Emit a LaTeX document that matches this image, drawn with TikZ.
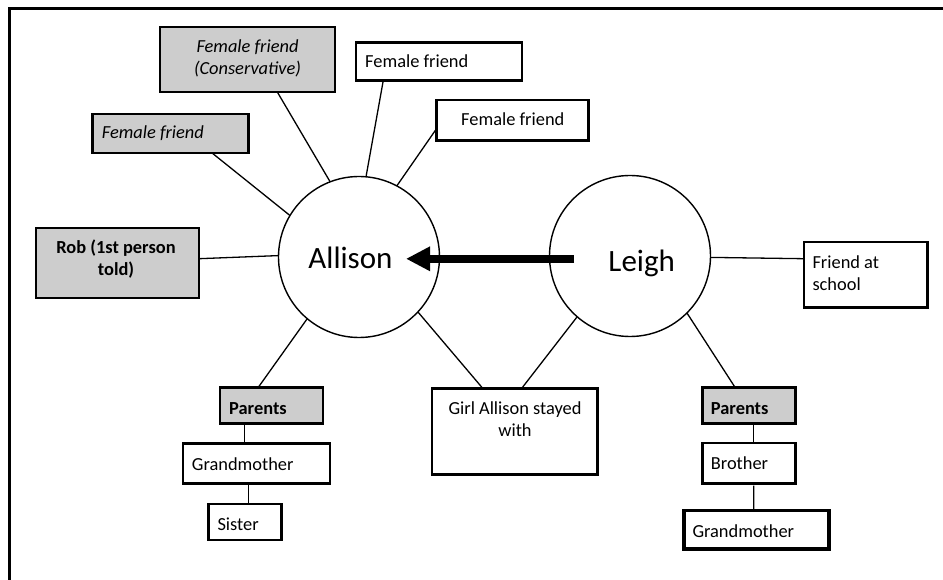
\documentclass[tikz,border=0pt]{standalone}
\usepackage{fontspec}
\setmainfont{Carlito}
\usetikzlibrary{arrows.meta}
\definecolor{boxgray}{RGB}{205,205,205}
\begin{document}
\begin{tikzpicture}[x=1pt,y=-1pt,
  box/.style={draw=black, line width=2.8pt, fill=white, inner sep=0pt, outer sep=0pt},
  gbox/.style={box, fill=boxgray},
  person/.style={circle, draw=black, line width=1.4pt, minimum size=161pt, inner sep=0pt, outer sep=0pt},
  big/.style={inner sep=0pt, anchor=base, font=\fontsize{31}{37}\selectfont},
  txt/.style={inner sep=0pt, font=\fontsize{18.4}{22}\selectfont},
  lt/.style={txt, anchor=base west},
  ct/.style={txt, anchor=base},
  link/.style={line width=1.3pt},
  frameline/.style={line width=3pt}
]
\useasboundingbox (0,0) rectangle (943,580);
% frame (left and top edges visible)
\coordinate (fr1) at (9,582);
\coordinate (fr2) at (9,9);
\coordinate (fr3) at (945,9);
\draw[frameline] (fr1) -- (fr2) -- (fr3);

% persons
\node[person] (A) at (359,257) {};
\node[person] (L) at (630,256) {};
\node[big] (At) at (350.5,269) {Allison};
\node[big] (Lt) at (641.7,271.5) {Leigh};

% boxes
\node[gbox, minimum width=175pt, minimum height=65pt] (con) at (247.5,59.5) {};
\node[gbox, minimum width=156pt, minimum height=39pt] (ffg) at (170.8,133.5) {};
\node[box, minimum width=166pt, minimum height=38pt] (ff1) at (439,61.3) {};
\node[box, minimum width=152pt, minimum height=40.5pt] (ff2) at (512.8,120.3) {};
\node[gbox, minimum width=163pt, minimum height=70pt] (rob) at (117.5,263) {};
\node[box, minimum width=123.5pt, minimum height=65.5pt] (fas) at (865.8,274.8) {};
\node[gbox, minimum width=103pt, minimum height=35.5pt] (parL) at (271.5,405.5) {};
\node[box, minimum width=147pt, minimum height=40.5pt] (gmL) at (256.5,463.6) {};
\node[box, minimum width=73pt, minimum height=36pt] (sis) at (245.3,522) {};
\node[box, minimum width=165.5pt, minimum height=86.5pt] (girl) at (514.8,431.6) {};
\node[gbox, minimum width=93.5pt, minimum height=35.5pt] (parR) at (749.1,405.5) {};
\node[box, minimum width=93.5pt, minimum height=40.5pt] (bro) at (749.1,463.3) {};
\node[box, minimum width=145pt, minimum height=38.5pt, line width=3.3pt] (gmR) at (756.5,529.6) {};

% texts
\node[ct, font=\fontsize{18.4}{22}\selectfont\itshape] (conT1) at (247.5,52.7) {Female friend};
\node[ct, font=\fontsize{18.4}{22}\selectfont\itshape] (conT2) at (247.5,75) {(Conservative)};
\node[lt, font=\fontsize{18.4}{22}\selectfont\itshape] (ffgT) at (101.7,139) {Female friend};
\node[lt] (ff1T) at (365,68) {Female friend};
\node[ct] (ff2T) at (512.8,126) {Female friend};
\node[ct, font=\fontsize{18.4}{22}\selectfont\bfseries] (robT1) at (116,254) {Rob (1st person};
\node[ct, font=\fontsize{18.4}{22}\selectfont\bfseries] (robT2) at (116,276) {told)};
\node[lt] (fasT1) at (812.3,268.3) {Friend at};
\node[lt] (fasT2) at (812.3,290.5) {school};
\node[lt, font=\fontsize{18.4}{22}\selectfont\bfseries] (parLT) at (229,414) {Parents};
\node[lt] (gmLT) at (191.7,470) {Grandmother};
\node[lt] (sisT) at (217.3,530.5) {Sister};
\node[ct] (girlT1) at (515,414.3) {Girl Allison stayed};
\node[ct] (girlT2) at (515,436.7) {with};
\node[lt, font=\fontsize{18.4}{22}\selectfont\bfseries] (parRT) at (710.7,414) {Parents};
\node[lt] (broT) at (710.7,469.3) {Brother};
\node[lt] (gmRT) at (692.3,537.3) {Grandmother};

% connectors
\draw[link] ([xshift=-36.7pt]ffg.south east) -- (A.149);
\draw[link] ([xshift=-57.7pt]con.south east) -- (A.111);
\draw[link] ([xshift=27.3pt]ff1.south west) -- (A.85);
\draw[link] ([yshift=-8pt]ff2.west) -- (A.62.6);
\draw[link] ([yshift=4.3pt]rob.east) -- (A.179);
\draw[link] (A.230.7) -- ([xshift=-13.5pt]parL.north);
\draw[link] (A.-43) -- ([xshift=50.7pt]girl.north west);
\draw[link] (L.229.4) -- ([xshift=6.9pt]girl.north);
\draw[link] (L.-45.8) -- ([xshift=-13.8pt]parR.north);
\draw[link] (L.-1.9) -- ([yshift=16.1pt]fas.west);
\draw[link] ([xshift=-27.2pt]parL.south) -- ([xshift=-12.2pt]gmL.north);
\draw[link] ([xshift=-8.2pt]gmL.south) -- ([xshift=3pt]sis.north);
\draw[link] ([xshift=4.6pt]parR.south) -- ([xshift=4.6pt]bro.north);
\draw[link] ([xshift=4.6pt,yshift=-2pt]bro.south) -- ([xshift=-2.8pt]gmR.north);

% arrow Leigh -> Allison
\draw[line width=7.7pt, -{Triangle[length=24pt,width=23pt]}] ([xshift=-56pt,yshift=-2.8pt]L.center) -- ([xshift=47pt,yshift=-1.8pt]A.center);
\end{tikzpicture}
\end{document}
